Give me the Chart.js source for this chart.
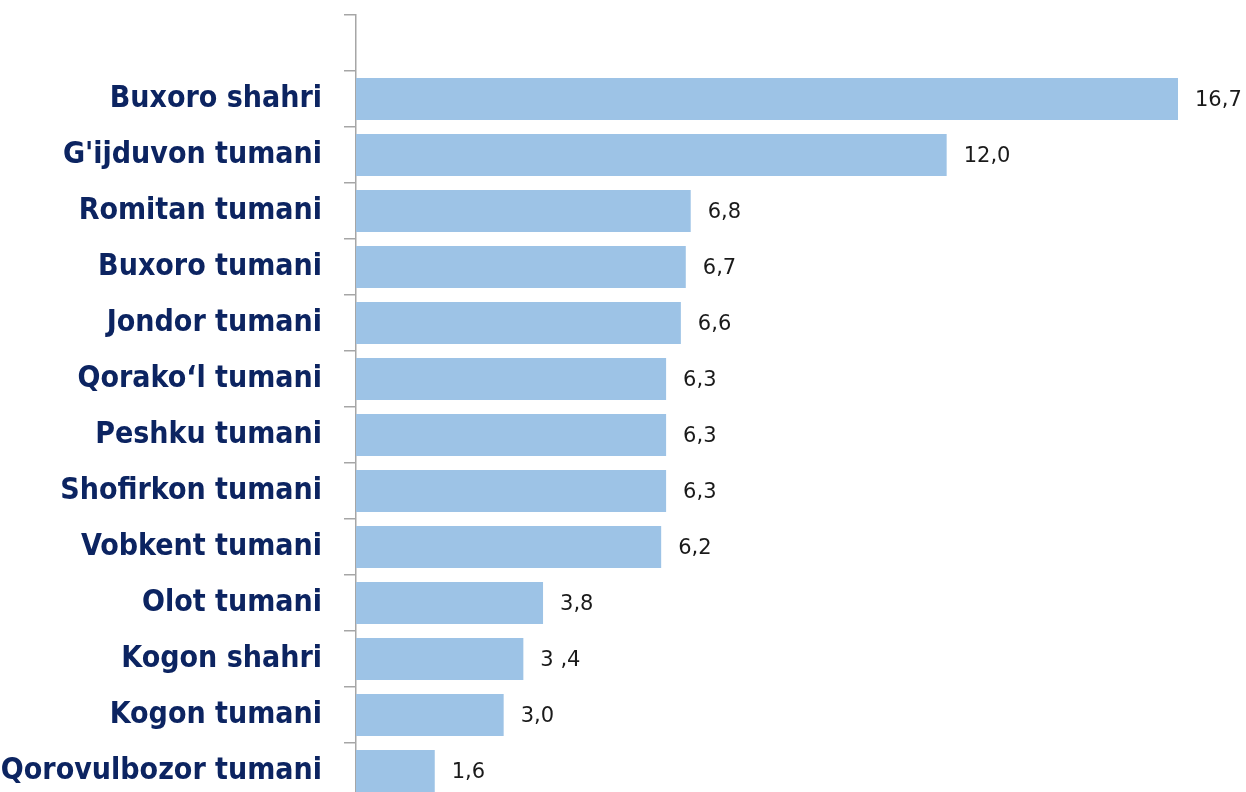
<!DOCTYPE html>
<html>
<head>
<meta charset="utf-8">
<script src="https://cdn.jsdelivr.net/npm/chart.js@4/dist/chart.umd.min.js"></script>
<style>
  html, body { margin: 0; padding: 0; background: #fff; overflow: hidden; }
  #wrap { position: relative; width: 1246px; height: 800px; }
</style>
</head>
<body>
<div id="wrap"><canvas id="chart"></canvas></div>
<script>
// Tumanlar (birinchi qator bo'sh)
const categories = ['', 'Buxoro shahri', "G'ijduvon tumani", 'Romitan tumani', 'Buxoro tumani',
  'Jondor tumani', 'Qorako‘l tumani', 'Peshku tumani', 'Shofirkon tumani', 'Vobkent tumani',
  'Olot tumani', 'Kogon shahri', 'Kogon tumani', 'Qorovulbozor tumani'];
const values = [null, 16.7, 12.0, 6.8, 6.7, 6.6, 6.3, 6.3, 6.3, 6.2, 3.8, 3.4, 3.0, 1.6];
const valueLabels = ['', '16,7', '12,0', '6,8', '6,7', '6,6', '6,3', '6,3', '6,3', '6,2', '3,8', '3 ,4', '3,0', '1,6'];
const xMax = 18;

const labelFont = "'Liberation Sans Narrow', 'DejaVu Sans Condensed', Roboto, sans-serif";

// Yozuvlar ustun oxiridan keyin
const valueLabelPlugin = {
  id: 'valueLabels',
  afterDatasetsDraw(chart) {
    const ctx = chart.ctx;
    const meta = chart.getDatasetMeta(0);
    ctx.save();
    ctx.font = "21px 'DejaVu Sans', sans-serif";
    ctx.fillStyle = '#1a1a1a';
    ctx.textAlign = 'left';
    ctx.textBaseline = 'middle';
    meta.data.forEach((bar, i) => {
      if (values[i] == null) return;
      ctx.fillText(valueLabels[i], bar.x + 17, bar.y + 2);
    });
    ctx.restore();
  }
};

new Chart(document.getElementById('chart'), {
  type: 'bar',
  data: {
    labels: categories,
    datasets: [{
      data: values,
      backgroundColor: '#9dc3e6',
      borderWidth: 0,
      categoryPercentage: 1,
      barPercentage: 0.75
    }]
  },
  options: {
    indexAxis: 'y',
    responsive: true,
    maintainAspectRatio: false,
    animation: false,
    layout: { autoPadding: false, padding: { top: 15, bottom: 1, right: 4, left: 0 } },
    plugins: { legend: { display: false }, tooltip: { enabled: false } },
    scales: {
      x: { display: false, min: 0, max: xMax },
      y: {
        afterFit(scale) {
          scale.width = 356;
          scale.paddingTop = 0;
          scale.paddingBottom = 0;
        },
        border: { display: true, color: '#a6a6a6', width: 1.5 },
        grid: { drawOnChartArea: false, color: '#a6a6a6', lineWidth: 1.5, tickLength: 12, offset: true },
        ticks: {
          padding: 22,
          color: '#0c2461',
          font: { family: labelFont, size: 30, weight: 'bold' }
        }
      }
    }
  },
  plugins: [valueLabelPlugin]
});
</script>
</body>
</html>
